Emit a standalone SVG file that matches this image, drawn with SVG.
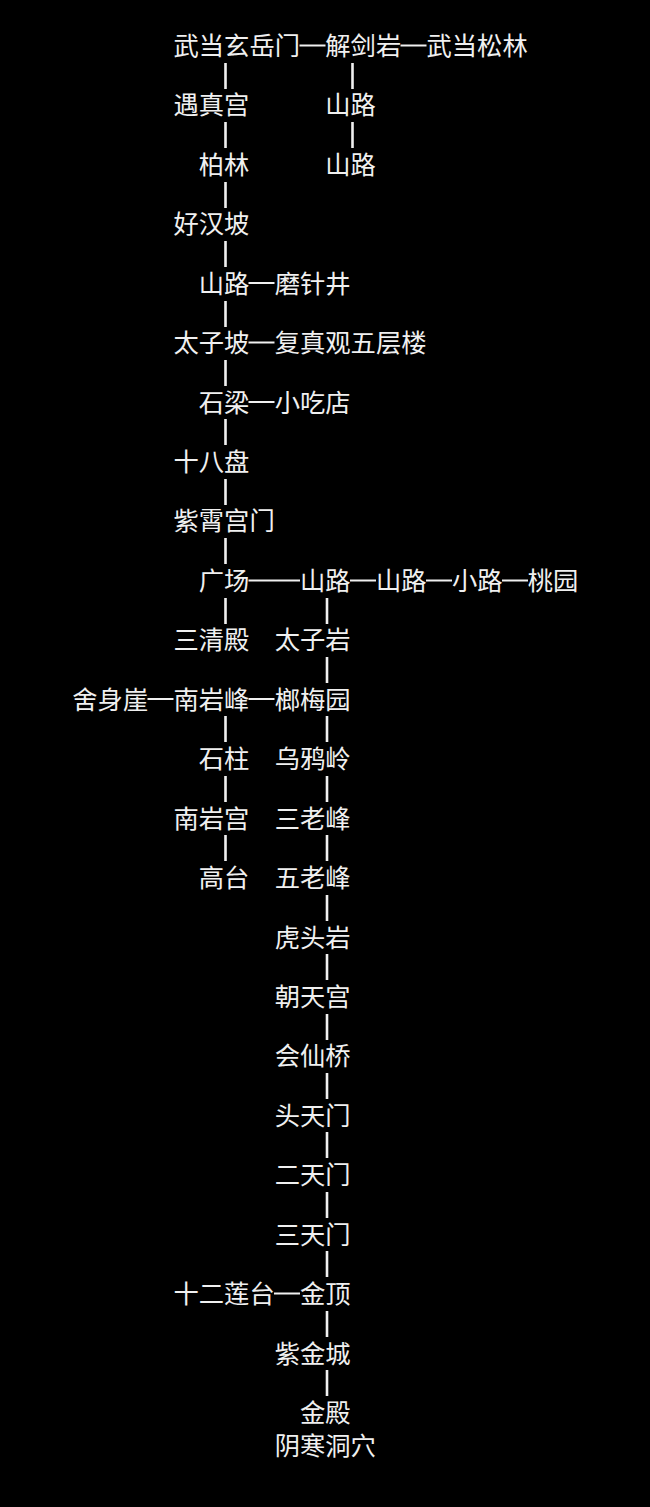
<svg xmlns="http://www.w3.org/2000/svg" width="650" height="1507" viewBox="0 0 650 1507">
<style>
text{font-family:"Noto Sans CJK SC","Noto Sans CJK TC",sans-serif;font-size:25.3px;fill:#f0f0f0}
.v{stroke:#f0f0f0;stroke-width:2.6}
.h{stroke:#f0f0f0;stroke-width:2}
</style>
<rect width="650" height="1507" fill="#000"/>
<g id="connectors">
<line class="v" x1="225.5" y1="63" x2="225.5" y2="89"/>
<line class="v" x1="225.5" y1="122" x2="225.5" y2="148"/>
<line class="v" x1="225.5" y1="182" x2="225.5" y2="208"/>
<line class="v" x1="225.5" y1="241" x2="225.5" y2="267"/>
<line class="v" x1="225.5" y1="301" x2="225.5" y2="327"/>
<line class="v" x1="225.5" y1="360" x2="225.5" y2="386"/>
<line class="v" x1="225.5" y1="419" x2="225.5" y2="445"/>
<line class="v" x1="225.5" y1="479" x2="225.5" y2="505"/>
<line class="v" x1="225.5" y1="538" x2="225.5" y2="564"/>
<line class="v" x1="225.5" y1="598" x2="225.5" y2="624"/>
<line class="v" x1="225.5" y1="716" x2="225.5" y2="742"/>
<line class="v" x1="225.5" y1="776" x2="225.5" y2="802"/>
<line class="v" x1="225.5" y1="835" x2="225.5" y2="861"/>
<line class="v" x1="352.5" y1="63" x2="352.5" y2="89"/>
<line class="v" x1="352.5" y1="122" x2="352.5" y2="148"/>
<line class="v" x1="327" y1="598" x2="327" y2="624"/>
<line class="v" x1="327" y1="657" x2="327" y2="683"/>
<line class="v" x1="327" y1="716" x2="327" y2="742"/>
<line class="v" x1="327" y1="776" x2="327" y2="802"/>
<line class="v" x1="327" y1="835" x2="327" y2="861"/>
<line class="v" x1="327" y1="895" x2="327" y2="921"/>
<line class="v" x1="327" y1="954" x2="327" y2="980"/>
<line class="v" x1="327" y1="1014" x2="327" y2="1040"/>
<line class="v" x1="327" y1="1073" x2="327" y2="1099"/>
<line class="v" x1="327" y1="1132" x2="327" y2="1158"/>
<line class="v" x1="327" y1="1192" x2="327" y2="1218"/>
<line class="v" x1="327" y1="1251" x2="327" y2="1277"/>
<line class="v" x1="327" y1="1311" x2="327" y2="1337"/>
<line class="v" x1="327" y1="1370" x2="327" y2="1396"/>
<line class="h" x1="299.5" y1="45.5" x2="325.5" y2="45.5"/>
<line class="h" x1="400.5" y1="45.5" x2="426.5" y2="45.5"/>
<line class="h" x1="248.5" y1="283" x2="274.5" y2="283"/>
<line class="h" x1="248.5" y1="342.5" x2="274.5" y2="342.5"/>
<line class="h" x1="248.5" y1="402" x2="274.5" y2="402"/>
<line class="h" x1="248.5" y1="580.5" x2="300" y2="580.5"/>
<line class="h" x1="350" y1="580.5" x2="376" y2="580.5"/>
<line class="h" x1="426" y1="580.5" x2="452" y2="580.5"/>
<line class="h" x1="502" y1="580.5" x2="528" y2="580.5"/>
<line class="h" x1="147.5" y1="699" x2="173.5" y2="699"/>
<line class="h" x1="248.5" y1="699" x2="274.5" y2="699"/>
<line class="h" x1="274" y1="1293.5" x2="300" y2="1293.5"/>
</g>
<g id="n-xuanyuemen"><text x="173.5" y="55">武当玄岳门</text></g>
<g id="n-jiejianyan"><text x="325.3" y="55">解剑岩</text></g>
<g id="n-songlin"><text x="426.5" y="55">武当松林</text></g>
<g id="n-yuzhengong"><text x="173.5" y="114.4">遇真宫</text></g>
<g id="n-shanlu1"><text x="325.3" y="114.4">山路</text></g>
<g id="n-bailin"><text x="198.8" y="173.9">柏林</text></g>
<g id="n-shanlu2"><text x="325.3" y="173.9">山路</text></g>
<g id="n-haohanpo"><text x="173.5" y="233.3">好汉坡</text></g>
<g id="n-shanlu3"><text x="198.8" y="292.7">山路</text></g>
<g id="n-mozhenjing"><text x="274.7" y="292.7">磨针井</text></g>
<g id="n-taizipo"><text x="173.5" y="352.2">太子坡</text></g>
<g id="n-fuzhenguan"><text x="274.7" y="352.2">复真观五层楼</text></g>
<g id="n-shiliang"><text x="198.8" y="411.6">石梁</text></g>
<g id="n-xiaochidian"><text x="274.7" y="411.6">小吃店</text></g>
<g id="n-shibapan"><text x="173.5" y="471">十八盘</text></g>
<g id="n-zixiaogongmen"><text x="173.5" y="530.4">紫霄宫门</text></g>
<g id="n-guangchang"><text x="198.8" y="589.9">广场</text></g>
<g id="n-shanlu4"><text x="300" y="589.9">山路</text></g>
<g id="n-shanlu5"><text x="376" y="589.9">山路</text></g>
<g id="n-xiaolu"><text x="452" y="589.9">小路</text></g>
<g id="n-taoyuan"><text x="527.7" y="589.9">桃园</text></g>
<g id="n-sanqingdian"><text x="173.5" y="649.3">三清殿</text></g>
<g id="n-taiziyan"><text x="274.7" y="649.3">太子岩</text></g>
<g id="n-sheshenya"><text x="72.3" y="708.7">舍身崖</text></g>
<g id="n-nanyanfeng"><text x="173.5" y="708.7">南岩峰</text></g>
<g id="n-langmeiyuan"><text x="274.7" y="708.7">榔梅园</text></g>
<g id="n-shizhu"><text x="198.8" y="768.2">石柱</text></g>
<g id="n-wuyaling"><text x="274.7" y="768.2">乌鸦岭</text></g>
<g id="n-nanyangong"><text x="173.5" y="827.6">南岩宫</text></g>
<g id="n-sanlaofeng"><text x="274.7" y="827.6">三老峰</text></g>
<g id="n-gaotai"><text x="198.8" y="887">高台</text></g>
<g id="n-wulaofeng"><text x="274.7" y="887">五老峰</text></g>
<g id="n-hutouyan"><text x="274.7" y="946.5">虎头岩</text></g>
<g id="n-chaotiangong"><text x="274.7" y="1005.9">朝天宫</text></g>
<g id="n-huixianqiao"><text x="274.7" y="1065.3">会仙桥</text></g>
<g id="n-toutianmen"><text x="274.7" y="1124.7">头天门</text></g>
<g id="n-ertianmen"><text x="274.7" y="1184.2">二天门</text></g>
<g id="n-santianmen"><text x="274.7" y="1243.6">三天门</text></g>
<g id="n-shierliantai"><text x="173.5" y="1303">十二莲台</text></g>
<g id="n-jinding"><text x="300" y="1303">金顶</text></g>
<g id="n-zijincheng"><text x="274.7" y="1362.5">紫金城</text></g>
<g id="n-jindian"><text x="300" y="1421.9">金殿</text></g>
<g id="n-yinhandongxue"><text x="274.7" y="1455">阴寒洞穴</text></g>
</svg>
